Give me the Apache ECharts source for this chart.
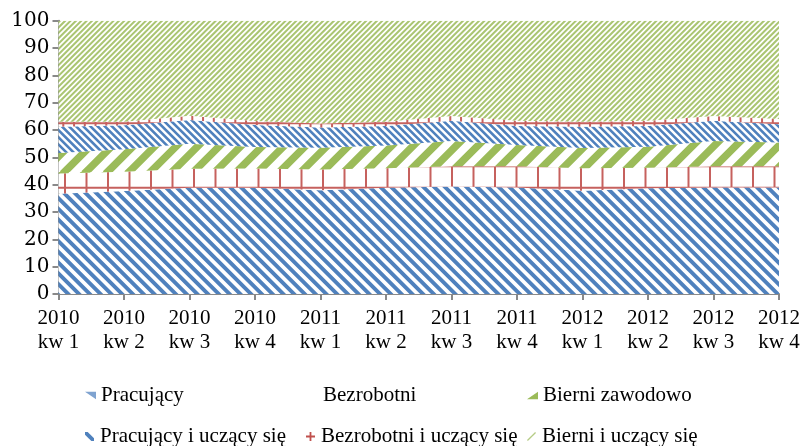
<!DOCTYPE html>
<html><head><meta charset="utf-8">
<script src="https://cdn.jsdelivr.net/npm/echarts@6/dist/echarts.min.js"></script>
<style>html,body{margin:0;padding:0;background:#fff}#c{width:803px;height:446px}</style>
</head><body><div id="c"></div>
<script>
const categories = ['2010\nkw 1','2010\nkw 2','2010\nkw 3','2010\nkw 4','2011\nkw 1','2011\nkw 2','2011\nkw 3','2011\nkw 4','2012\nkw 1','2012\nkw 2','2012\nkw 3','2012\nkw 4'];
const seriesNames = ['Pracujący','Bezrobotni','Bierni zawodowo','Pracujący i uczący się','Bezrobotni i uczący się','Bierni i uczący się'];
const pracujacy        = [36.7, 37.7, 38.9, 38.9, 38.0, 38.9, 39.3, 39.0, 37.8, 38.7, 39.0, 39.0];
const bezrobotni       = [7.4, 7.0, 6.9, 7.0, 7.6, 7.1, 7.4, 7.7, 8.2, 7.5, 7.7, 7.7];
const bierniZawodowo   = [7.5, 8.3, 9.2, 7.9, 7.9, 8.3, 9.3, 7.8, 7.4, 7.7, 9.3, 8.7];
const pracujacyUczacy  = [9.6, 8.7, 8.7, 8.0, 7.4, 7.2, 7.4, 7.0, 7.8, 7.6, 7.4, 6.7];
const bezrobotniUczacy = [1.8, 1.3, 1.5, 1.5, 1.5, 1.5, 1.7, 1.9, 1.8, 1.9, 1.7, 1.9];
const bierniUczacy     = [37.0, 37.0, 34.8, 36.7, 37.6, 37.0, 34.9, 36.6, 37.0, 36.6, 34.9, 36.0];
const yTicks = [0, 10, 20, 30, 40, 50, 60, 70, 80, 90, 100];

function tile(size, draw) {
  const c = document.createElement('canvas');
  c.width = size; c.height = size;
  const g = c.getContext('2d');
  g.fillStyle = '#fff'; g.fillRect(0, 0, size, size);
  draw(g, size);
  return c;
}
function stripes(size, n, color, width, dir) {
  return {image: tile(size, (g, S) => {
    g.strokeStyle = color; g.lineWidth = width; const p = S / n;
    g.beginPath();
    for (let j = -n - 2; j <= 2 * n + 2; j++) {
      const c = j * p;
      if (dir === 'down') { g.moveTo(c - 2, -2); g.lineTo(c + S + 2, S + 2); }
      else { g.moveTo(c + 2, -2); g.lineTo(c - S - 2, S + 2); }
    }
    g.stroke();
  }), repeat: 'repeat'};
}
function gridPat(size, n, color, width, ox, oy) {
  return {image: tile(size, (g, S) => {
    g.strokeStyle = color; g.lineWidth = width; const p = S / n;
    g.beginPath();
    for (let k = -1; k <= n; k++) {
      const x = ox + k * p, y = oy + k * p;
      g.moveTo(x, 0); g.lineTo(x, S);
      g.moveTo(0, y); g.lineTo(S, y);
    }
    g.stroke();
  }), repeat: 'repeat'};
}

const BLUE = '#4F81BD', RED = '#C0504D', GREEN = '#9BBB59';
const fills = [
  stripes(43, 4, BLUE, 3.9, 'down'),
  gridPat(43, 2, 'rgba(192,80,77,0.9)', 2, 22, 15.7),
  stripes(43, 2, GREEN, 7.5, 'up'),
  stripes(43, 6, BLUE, 2.6, 'down'),
  gridPat(43, 4, 'rgba(192,80,77,0.9)', 2, 9.55, 5.05),
  stripes(43, 8, 'rgba(155,187,89,0.85)', 2, 'up')
];
const values = [pracujacy, bezrobotni, bierniZawodowo, pracujacyUczacy, bezrobotniUczacy, bierniUczacy];

const FONT = 'Liberation Serif';
const legendIcons = [
  {icon: 'path://M0,0L10,0L10,7Z', color: '#7fa3d0'},
  {icon: 'rect', color: 'rgba(0,0,0,0)'},
  {icon: 'path://M10,0L10,7L0,7Z', color: GREEN},
  {icon: 'path://M0,0L3,0L10,7L10,10L7,10L0,3Z', color: BLUE},
  {icon: 'path://M4,0L6,0L6,4L10,4L10,6L6,6L6,10L4,10L4,6L0,6L0,4L4,4Z', color: RED},
  {icon: 'path://M0,9L9,0L10,1L1,10Z', color: '#b5cc85'}
];
const legendPos = [[85, 395], [307, 395], [527, 395], [85, 436], [306, 436], [527, 436]];

const legends = seriesNames.map((name, i) => ({
  data: [{name: name, icon: legendIcons[i].icon, itemStyle: {color: legendIcons[i].color, borderWidth: 0}}],
  left: legendPos[i][0], top: legendPos[i][1] - 10, padding: 0,
  itemWidth: 11, itemHeight: 9, itemGap: 0, selectedMode: false,
  textStyle: {fontFamily: FONT, fontSize: 21, color: '#000', padding: [0, 0, 0, 0]}
}));

const chart = echarts.init(document.getElementById('c'), null, {renderer: 'canvas', devicePixelRatio: 1});
chart.setOption({
  animation: false,
  backgroundColor: '#fff',
  legend: legends,
  grid: {left: 58.5, right: 24, top: 20.7, bottom: 152, containLabel: false},
  xAxis: {
    type: 'category', data: categories, boundaryGap: false,
    axisLine: {lineStyle: {color: '#898989', width: 2}},
    axisTick: {show: true, length: 6, lineStyle: {color: '#898989', width: 2}},
    axisLabel: {fontFamily: FONT, fontSize: 21, color: '#000', margin: 12, lineHeight: 24, interval: 0},
    splitLine: {show: false}
  },
  yAxis: {
    type: 'value', min: yTicks[0], max: yTicks[yTicks.length - 1], interval: 10,
    axisLine: {show: true, lineStyle: {color: '#898989', width: 2}},
    axisTick: {show: true, length: 6, lineStyle: {color: '#898989', width: 2}},
    axisLabel: {fontFamily: 'DejaVu Serif', fontSize: 20, color: '#000', margin: 9},
    splitLine: {show: false}
  },
  series: seriesNames.map((name, i) => ({
    name: name, type: 'line', stack: 'total', data: values[i],
    symbol: 'none', silent: true,
    lineStyle: {width: 0, opacity: 0},
    itemStyle: {color: legendIcons[i].color},
    areaStyle: {color: fills[i], opacity: 1},
    z: 2
  }))
});
</script></body></html>
